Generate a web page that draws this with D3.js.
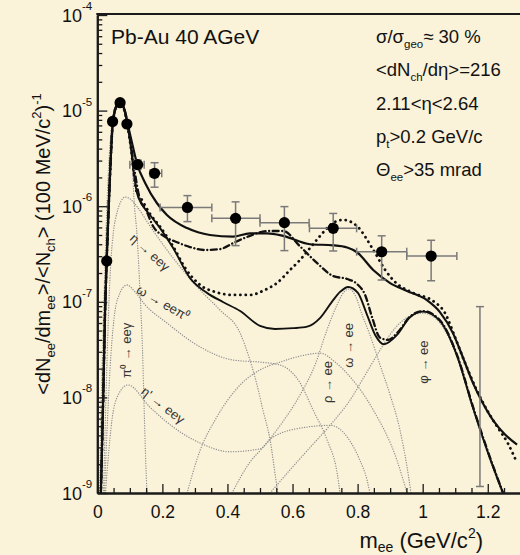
<!DOCTYPE html>
<html>
<head>
<meta charset="utf-8">
<script src="https://cdn.jsdelivr.net/npm/d3@7"></script>
<style>
  html, body { margin: 0; padding: 0; background: #faf2d9; }
  svg { display: block; font-family: "Liberation Sans", Arial, Helvetica, sans-serif; }
</style>
</head>
<body>
<svg id="chart" width="520" height="555"></svg>
<script>
// ---- measured dielectron yield (CERES Pb-Au 40 AGeV) ----
const massPoints  = [0.029, 0.047, 0.070, 0.091, 0.124, 0.176, 0.277, 0.425, 0.575, 0.725, 0.874, 1.026];
const yieldPoints = [2.67e-7, 7.7e-6, 1.21e-5, 7.24e-6, 2.72e-6, 2.21e-6, 9.7e-7, 7.46e-7, 6.73e-7, 5.87e-7, 3.34e-7, 3.01e-7];
const massLow  = [null, null, null, null, 0.100, 0.162, 0.193, 0.352, 0.500, 0.652, 0.797, 0.951];
const massHigh = [null, null, null, null, 0.144, 0.198, 0.352, 0.500, 0.651, 0.797, 0.951, 1.105];
const yieldLow  = [null, null, null, null, 2.43e-6, 1.58e-6, 6.9e-7, 3.87e-7, 3.43e-7, 3.4e-7, 1.69e-7, 1.66e-7];
const yieldHigh = [null, null, null, null, 3.04e-6, 2.85e-6, 1.29e-6, 1.11e-6, 9.9e-7, 8.4e-7, 4.9e-7, 4.4e-7];
// last bin: error bar only
const limitMass = [1.176];
const limitLow  = [1.17e-9];
const limitHigh = [8.9e-8];

// ---- model curves ----
const peakShared = [[0.011,1e-9],[0.018,9.4e-9],[0.024,8.2e-8],[0.030,3.5e-7],[0.039,2.1e-6],[0.048,7.6e-6],
  [0.061,1.17e-5],[0.070,1.26e-5],[0.082,1.06e-5]];
const totalBroadened = [[0.094,7.1e-6],[0.110,4.1e-6],[0.122,2.8e-6],[0.147,1.75e-6],[0.183,1.08e-6],
  [0.214,8.1e-7],[0.276,5.9e-7],[0.346,5.0e-7],[0.417,4.8e-7],[0.469,5.2e-7],[0.522,5.2e-7],[0.571,4.9e-7],
  [0.654,4.0e-7],[0.725,3.9e-7],[0.768,3.7e-7],[0.798,3.3e-7],[0.848,2.15e-7],[0.900,1.57e-7],[0.952,1.30e-7],
  [1.013,1.04e-7],[1.053,7.8e-8],[1.093,4.7e-8],[1.124,2.6e-8],[1.155,1.4e-8],[1.185,8.7e-9],[1.216,5.8e-9],
  [1.253,4.1e-9],[1.290,3.2e-9]];
const cocktailSum = [[0.094,6.6e-6],[0.104,3.9e-6],[0.113,2.1e-6],[0.122,1.37e-6],[0.135,1.08e-6],[0.162,8.1e-7],
  [0.193,5.9e-7],[0.233,3.66e-7],[0.285,1.77e-7],[0.337,1.24e-7],[0.386,9.95e-8],[0.439,8.0e-8],[0.500,5.6e-8],
  [0.546,5.2e-8],[0.602,5.3e-8],[0.645,5.5e-8],[0.685,6.8e-8],[0.721,1.0e-7],[0.746,1.27e-7],[0.771,1.43e-7],
  [0.801,1.24e-7],[0.829,7.3e-8],[0.854,4.5e-8],[0.881,3.6e-8],[0.921,4.5e-8],[0.961,6.9e-8],[1.001,7.9e-8],
  [1.053,6.3e-8],[1.106,2.7e-8],[1.155,7.7e-9],[1.207,2.3e-9],[1.247,1.0e-9]];
const droppingMass = [[0.094,6.6e-6],[0.104,3.9e-6],[0.113,2.1e-6],[0.122,1.37e-6],[0.131,1.25e-6],[0.162,8.3e-7],
  [0.193,6.1e-7],[0.233,3.8e-7],[0.270,2.26e-7],[0.316,1.5e-7],[0.362,1.27e-7],[0.417,1.18e-7],[0.469,1.18e-7],
  [0.515,1.33e-7],[0.552,1.57e-7],[0.592,2.15e-7],[0.623,2.74e-7],[0.654,3.66e-7],[0.685,4.9e-7],[0.725,6.7e-7],
  [0.755,7.2e-7],[0.798,6.2e-7],[0.848,3.5e-7],[0.885,2.15e-7],[0.909,1.69e-7],[0.970,1.24e-7],[1.032,1.02e-7],
  [1.069,7.6e-8],[1.099,4.3e-8],[1.130,2.3e-8],[1.161,1.3e-8],[1.191,8.1e-9],[1.228,5.0e-9],[1.262,3.3e-9],
  [1.290,2.06e-9]];
const extraSource = [[0.135,1.08e-6],[0.147,9.5e-7],[0.171,6.2e-7],[0.208,4.8e-7],[0.245,4.2e-7],[0.285,3.74e-7],
  [0.331,3.48e-7],[0.377,3.56e-7],[0.423,4.2e-7],[0.469,4.9e-7],[0.522,5.5e-7],[0.571,5.5e-7],[0.623,3.8e-7],
  [0.675,2.55e-7],[0.725,1.86e-7],[0.768,1.73e-7],[0.798,1.54e-7],[0.823,1.18e-7],[0.845,6.8e-8],[0.869,4.2e-8],
  [0.894,4.0e-8],[0.921,4.7e-8],[0.961,7.0e-8],[1.001,8.0e-8],[1.053,6.4e-8],[1.106,2.75e-8],[1.155,7.9e-9],
  [1.207,2.35e-9],[1.247,1.0e-9]];

// ---- hadronic cocktail components ----
const pi0Dalitz = [[0.0068,1e-9],[0.011,5.8e-9],[0.018,5.1e-8],[0.024,2.7e-7],[0.033,1.9e-6],[0.045,7.1e-6],
  [0.061,1.06e-5],[0.073,1.12e-5],[0.085,9.0e-6],[0.097,6.3e-6],[0.107,3.0e-6],[0.113,1.16e-6],[0.122,5.0e-7],
  [0.131,1.33e-7],[0.139,3.1e-8],[0.145,5.8e-9],[0.151,1.37e-9],[0.156,8e-10]];
const etaDalitz = [[0.019,1e-9],[0.024,4.6e-9],[0.030,2.46e-8],[0.036,1.04e-7],[0.042,2.7e-7],[0.049,5.2e-7],
  [0.061,8.7e-7],[0.073,1.13e-6],[0.085,1.25e-6],[0.101,1.19e-6],[0.125,9.6e-7],[0.162,6.2e-7],[0.233,2.87e-7],
  [0.316,1.33e-7],[0.377,8.2e-8],[0.439,4.7e-8],[0.469,2.46e-8],[0.491,1.35e-8],[0.509,7.4e-9],[0.531,3.6e-9],
  [0.549,1.37e-9],[0.556,9.4e-10]];
const omegaDalitz = [[0.022,1e-9],[0.030,4.6e-9],[0.039,1.94e-8],[0.051,6.5e-8],[0.067,1.18e-7],[0.091,1.5e-7],
  [0.116,1.27e-7],[0.147,9.3e-8],[0.214,6.0e-8],[0.316,3.37e-8],[0.417,2.46e-8],[0.500,2.34e-8],[0.562,2.18e-8],
  [0.623,1.42e-8],[0.663,7.4e-9],[0.706,3.6e-9],[0.737,1.62e-9],[0.746,1e-9]];
const etaPrimeDalitz = [[0.025,1e-9],[0.033,2.2e-9],[0.045,5.8e-9],[0.064,1.06e-8],[0.094,1.35e-8],[0.162,7.9e-9],
  [0.233,4.9e-9],[0.316,3.33e-9],[0.408,2.7e-9],[0.500,2.9e-9],[0.540,3.85e-9],[0.645,4.9e-9],[0.716,5.1e-9],
  [0.768,3.85e-9],[0.807,2.2e-9],[0.829,1.37e-9],[0.838,1e-9]];
const rhoDirect = [[0.276,1e-9],[0.316,2.8e-9],[0.362,5.8e-9],[0.439,1.35e-8],[0.500,1.94e-8],[0.562,2.34e-8],
  [0.623,2.7e-8],[0.685,2.9e-8],[0.731,2.34e-8],[0.777,1.64e-8],[0.848,7.4e-9],[0.921,2.2e-9],[0.952,1e-9]];
const omegaDirect = [[0.414,1e-9],[0.469,2.1e-9],[0.509,3.0e-9],[0.562,5.1e-9],[0.623,1.06e-8],[0.669,2.18e-8],
  [0.706,5.1e-8],[0.737,9.3e-8],[0.758,1.27e-7],[0.774,1.36e-7],[0.792,1.18e-7],[0.814,7.3e-8],[0.838,4.5e-8],
  [0.869,2.18e-8],[0.900,1.06e-8],[0.930,4.6e-9],[0.952,1.87e-9],[0.964,1e-9]];
const phiDirect = [[0.531,1e-9],[0.592,1.74e-9],[0.654,3.0e-9],[0.715,5.1e-9],[0.777,9.4e-9],[0.823,1.71e-8],
  [0.869,3.13e-8],[0.915,5.3e-8],[0.961,7.1e-8],[1.001,7.6e-8],[1.044,6.5e-8],[1.099,3.0e-8],[1.151,8.3e-9],
  [1.201,2.5e-9],[1.244,1e-9]];

// component labels: text, mass, yield, rotation
const componentLabels = [
  { text: "η → eeγ",  m: 0.162, v: 3.3e-7, rot: 42 },
  { text: "ω → eeπ⁰", m: 0.203, v: 9.7e-8, rot: 30 },
  { text: "π⁰ → eeγ", m: 0.091, v: 3.1e-8, rot: -90 },
  { text: "η' → eeγ", m: 0.202, v: 8.3e-9, rot: 38 },
  { text: "ρ → ee",   m: 0.706, v: 1.45e-8, rot: -90 },
  { text: "ω → ee",   m: 0.771, v: 3.5e-8, rot: -90 },
  { text: "φ → ee",   m: 1.001, v: 2.34e-8, rot: -90 }
];

const xTicks = [0, 0.2, 0.4, 0.6, 0.8, 1, 1.2];
const yDecades = [-9, -8, -7, -6, -5, -4];

// ---- drawing ----
const svg = d3.select("#chart");
const x = d3.scaleLinear().domain([0, 1.3]).range([97.3, 520.3]);
const y = d3.scaleLog().domain([1e-9, 1e-4]).range([493, 15]);

svg.append("rect").attr("width", 520).attr("height", 555).attr("fill", "#faf2d9");

svg.append("defs").append("clipPath").attr("id", "plotArea")
  .append("rect").attr("x", x(0)).attr("y", y(1e-4)).attr("width", 520 - x(0)).attr("height", y(1e-9) - y(1e-4));

const plot = svg.append("g").attr("clip-path", "url(#plotArea)");
const line = d3.line().x(d => x(d[0])).y(d => y(d[1])).curve(d3.curveMonotoneX);

// cocktail components (thin grey dotted)
[pi0Dalitz, etaDalitz, omegaDalitz, etaPrimeDalitz, rhoDirect, omegaDirect, phiDirect].forEach(c => {
  plot.append("path").attr("d", line(c)).attr("fill", "none")
    .attr("stroke", "#8e8e8e").attr("stroke-width", 1.3)
    .attr("stroke-dasharray", "0.1 2.4").attr("stroke-linecap", "round");
});

// model curves
plot.append("path").attr("d", line(peakShared.concat(extraSource))).attr("fill", "none")
  .attr("stroke", "#111").attr("stroke-width", 2.3)
  .attr("stroke-dasharray", "6 3.5 0.1 3.5").attr("stroke-linecap", "round");
plot.append("path").attr("d", line(peakShared.concat(droppingMass))).attr("fill", "none")
  .attr("stroke", "#111").attr("stroke-width", 2.8)
  .attr("stroke-dasharray", "0.1 5.3").attr("stroke-linecap", "round");
plot.append("path").attr("d", line(peakShared.concat(cocktailSum))).attr("fill", "none")
  .attr("stroke", "#111").attr("stroke-width", 1.9);
plot.append("path").attr("d", line(peakShared.concat(totalBroadened))).attr("fill", "none")
  .attr("stroke", "#111").attr("stroke-width", 2.2);

// component labels
componentLabels.forEach(l => {
  svg.append("text").attr("transform", `translate(${x(l.m)},${y(l.v)}) rotate(${l.rot})`)
    .attr("text-anchor", "middle").attr("dy", "0.35em")
    .attr("font-size", 13).attr("fill", "#333").text(l.text);
});

// error bars
const errColor = "#7a7a7a";
const eb = svg.append("g").attr("stroke", errColor).attr("stroke-width", 1.5).attr("fill", "none");
massPoints.forEach((m, i) => {
  if (massLow[i] !== null) {
    eb.append("line").attr("x1", x(massLow[i])).attr("x2", x(massHigh[i])).attr("y1", y(yieldPoints[i])).attr("y2", y(yieldPoints[i]));
    [massLow[i], massHigh[i]].forEach(v => eb.append("line").attr("x1", x(v)).attr("x2", x(v))
      .attr("y1", y(yieldPoints[i]) - 4).attr("y2", y(yieldPoints[i]) + 4));
  }
  if (yieldLow[i] !== null) {
    eb.append("line").attr("x1", x(m)).attr("x2", x(m)).attr("y1", y(yieldLow[i])).attr("y2", y(yieldHigh[i]));
    [yieldLow[i], yieldHigh[i]].forEach(v => eb.append("line").attr("x1", x(m) - 4).attr("x2", x(m) + 4)
      .attr("y1", y(v)).attr("y2", y(v)));
  }
});
limitMass.forEach((m, i) => {
  eb.append("line").attr("x1", x(m)).attr("x2", x(m)).attr("y1", y(limitLow[i])).attr("y2", y(limitHigh[i]));
  [limitLow[i], limitHigh[i]].forEach(v => eb.append("line").attr("x1", x(m) - 4).attr("x2", x(m) + 4)
    .attr("y1", y(v)).attr("y2", y(v)));
});

// data points
svg.append("g").selectAll("circle").data(massPoints).join("circle")
  .attr("cx", d => x(d)).attr("cy", (d, i) => y(yieldPoints[i])).attr("r", 5.6).attr("fill", "#000");

// ---- axes ----
const axisColor = "#1a1a1a";
const xMinor = d3.range(0, 1.31, 0.05).filter(v => Math.abs(v / 0.2 - Math.round(v / 0.2)) > 1e-6);
const xAxisG = svg.append("g").attr("transform", `translate(0,${y(1e-9)})`);
xAxisG.append("g").call(d3.axisBottom(x).tickValues(xMinor).tickSize(-5).tickSizeOuter(0).tickFormat(""));
xAxisG.append("g").call(d3.axisBottom(x).tickValues(xTicks).tickSize(-9).tickSizeOuter(0).tickPadding(13)
  .tickFormat(d => d === 0 ? "0" : d === 1 ? "1" : d3.format(".1f")(d)));
xAxisG.selectAll("path.domain").attr("stroke", axisColor).attr("stroke-width", 2);
xAxisG.selectAll(".tick line").attr("stroke", axisColor).attr("stroke-width", 1.3);
xAxisG.selectAll(".tick text").attr("font-size", 17.5).attr("fill", "#111")
  .attr("font-family", "Liberation Sans, Arial, sans-serif");

const yMinor = [];
yDecades.slice(0, -1).forEach(e => { for (let k = 2; k <= 9; k++) yMinor.push(k * Math.pow(10, e)); });
const yMajor = yDecades.map(e => Math.pow(10, e));
const yAxisG = svg.append("g").attr("transform", `translate(${x(0)},0)`);
yAxisG.append("g").call(d3.axisLeft(y).tickValues(yMinor).tickSize(-5).tickSizeOuter(0).tickFormat(""));
yAxisG.append("g").call(d3.axisLeft(y).tickValues(yMajor).tickSize(-10).tickSizeOuter(0).tickFormat(""));
yAxisG.selectAll("path.domain").attr("stroke", axisColor).attr("stroke-width", 2);
yAxisG.selectAll(".tick line").attr("stroke", axisColor).attr("stroke-width", 1.3);

// decade labels 10^n
yDecades.forEach(e => {
  svg.append("text").attr("x", 82).attr("y", y(Math.pow(10, e)) + 6.5)
    .attr("text-anchor", "end").attr("font-size", 18).attr("fill", "#111").text("10");
  svg.append("text").attr("x", 82).attr("y", y(Math.pow(10, e)) - 5)
    .attr("font-size", 11.5).attr("fill", "#111").text(String(e));
});

// top frame line
svg.append("line").attr("x1", x(0) - 1).attr("x2", 520).attr("y1", y(1e-4) - 1).attr("y2", y(1e-4) - 1)
  .attr("stroke", axisColor).attr("stroke-width", 2);

// axis titles
const xt = svg.append("text").attr("x", 483).attr("y", 548).attr("text-anchor", "end")
  .attr("font-size", 22).attr("fill", "#111");
xt.append("tspan").text("m");
xt.append("tspan").attr("font-size", 14).attr("dy", 4).text("ee");
xt.append("tspan").attr("dy", -4).text(" (GeV/c");
xt.append("tspan").attr("font-size", 14).attr("dy", -10).text("2");
xt.append("tspan").attr("dy", 10).text(")");

const yt = svg.append("text").attr("transform", "translate(50,244) rotate(-90)").attr("text-anchor", "middle")
  .attr("font-size", 20).attr("fill", "#111");
yt.append("tspan").text("<dN");
yt.append("tspan").attr("font-size", 13).attr("dy", 5).text("ee");
yt.append("tspan").attr("dy", -5).text("/dm");
yt.append("tspan").attr("font-size", 13).attr("dy", 5).text("ee");
yt.append("tspan").attr("dy", -5).text(">/<N");
yt.append("tspan").attr("font-size", 13).attr("dy", 5).text("ch");
yt.append("tspan").attr("dy", -5).text("> (100 MeV/c");
yt.append("tspan").attr("font-size", 13).attr("dy", -9).text("2");
yt.append("tspan").attr("dy", 9).text(")");
yt.append("tspan").attr("font-size", 13).attr("dy", -9).text("-1");

// collision system and cuts
svg.append("text").attr("x", 111).attr("y", 44).attr("font-size", 21).attr("fill", "#111").text("Pb-Au 40 AGeV");

const infoLines = [
  [["σ/σ", 0], ["geo", 1], ["≈ 30 %", 0]],
  [["<dN", 0], ["ch", 1], ["/dη>=216", 0]],
  [["2.11<η<2.64", 0]],
  [["p", 0], ["t", 1], [">0.2 GeV/c", 0]],
  [["Θ", 0], ["ee", 1], [">35 mrad", 0]]
];
infoLines.forEach((parts, i) => {
  const t = svg.append("text").attr("x", 376).attr("y", 43 + i * 33.3).attr("font-size", 18.5).attr("fill", "#111");
  let sub = false;
  parts.forEach(([s, isSub]) => {
    const ts = t.append("tspan").text(s);
    if (isSub && !sub) { ts.attr("font-size", 11.5).attr("dy", 5); sub = true; }
    else if (!isSub && sub) { ts.attr("dy", -5); sub = false; }
  });
});
</script>
</body>
</html>
